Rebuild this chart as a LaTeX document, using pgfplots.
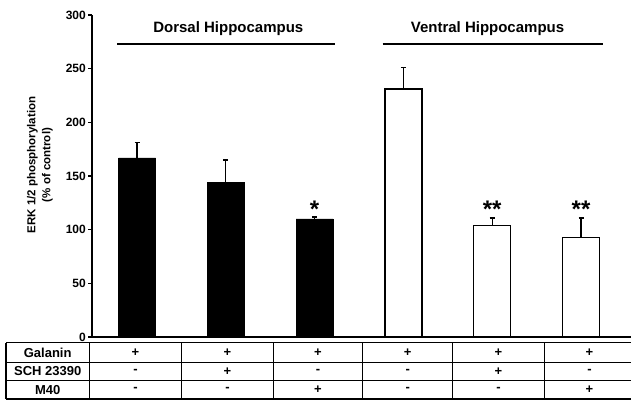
\documentclass[border=0pt]{standalone}
\usepackage{fontspec}
\setmainfont{Liberation Sans}
\usepackage{pgfplots}
\usepackage{pgfplotstable}
\pgfplotsset{compat=1.18}
\pgfplotstableread{
x y e
1 167 14
2 144 21
3 110 2
}\dorsal
\pgfplotstableread{
x y e
4 231 20
5 104 7
6 93 18
}\ventral
\begin{document}
\begin{tikzpicture}[x=1pt,y=1pt]
\useasboundingbox (0,0) rectangle (631,401);
\begin{axis}[
  at={(92pt,64pt)}, anchor=south west,
  scale only axis, width=539pt, height=322pt,
  xmin=0.493, xmax=6.563, ymin=0, ymax=300,
  axis x line=bottom, axis y line=left,
  axis line style={-, line width=1.3pt},
  xtick=\empty,
  ytick={0,50,...,300},
  tick align=outside, major tick length=4pt,
  tick style={line width=1.3pt, black},
  yticklabel={\fontsize{12}{12}\selectfont\bfseries\pgfmathprintnumber{\tick}},
  yticklabel style={inner sep=2pt},
  /pgf/number format/assume math mode=true,
  clip=false,
  ybar, bar width=37pt,
  error bars/y dir=plus, error bars/y explicit,
  error bars/error bar style={line width=1.3pt, black},
  error bars/error mark options={rotate=90, mark size=2.5pt, line width=1.5pt, black},
]
\addplot[fill=black, draw=black, bar shift=0pt] table[x=x,y=y,y error=e] {\dorsal};
\addplot[fill=white, draw=black, line width=1.2pt, bar shift=0pt] table[x=x,y=y,y error=e] {\ventral};
\draw[line width=1.8pt] (axis cs:0.778,272.8) -- (axis cs:3.23,272.8);
\draw[line width=1.8pt] (axis cs:3.767,272.8) -- (axis cs:6.251,272.8);
\node[font=\fontsize{15}{16}\selectfont\bfseries] at (axis cs:2.028,287.2) {Dorsal Hippocampus};
\node[font=\fontsize{15}{16}\selectfont\bfseries] at (axis cs:4.947,287.2) {Ventral Hippocampus};
\node[anchor=base, inner sep=0pt, font=\fontsize{24}{24}\selectfont\bfseries] at (axis cs:3,111) {*};
\node[anchor=base, inner sep=0pt, font=\fontsize{24}{24}\selectfont\bfseries] at (axis cs:5,111) {**};
\node[anchor=base, inner sep=0pt, font=\fontsize{24}{24}\selectfont\bfseries] at (axis cs:6,111) {**};
\end{axis}
\node[rotate=90, align=center, font=\fontsize{11.5}{15}\selectfont\bfseries] at (40,236) {ERK 1/2 phosphorylation\\(\% of control)};
% table
\foreach \yy in {58.3,38.7,20.3,2} {\draw[line width=1.3pt] (6,\yy) -- (640,\yy);}
\foreach \xx in {6,89.3,181.7,273.3,362.7,452.7,544.3} {\draw[line width=1.3pt] (\xx,58.3) -- (\xx,2);}
\begin{scope}[every node/.style={font=\fontsize{13}{13}\selectfont\bfseries}]
\node at (47.7,48.5) {Galanin};
\node at (47.7,29.5) {SCH 23390};
\node at (47.7,11.15) {M40};
\foreach \xx/\a/\b/\c in {135.5/+/-/-, 227.5/+/+/-, 318/+/-/+, 407.7/+/-/-, 498.5/+/+/-, 589.5/+/-/+} {
  \node at (\xx,48.5) {\a};
  \node at (\xx,29.5) {\b};
  \node at (\xx,11.15) {\c};
}
\end{scope}
\end{tikzpicture}
\end{document}
